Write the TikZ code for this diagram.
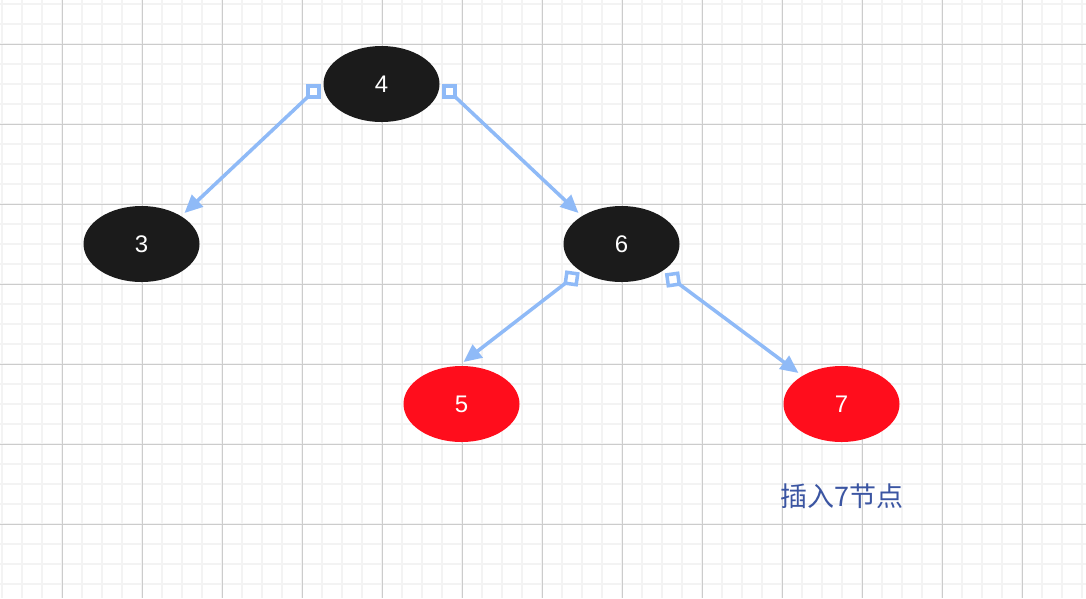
\documentclass[tikz,border=0pt]{standalone}
\usepackage{fontspec}
\setmainfont{Liberation Sans}
\newfontfamily\cjk{Noto Sans CJK SC}
\usetikzlibrary{arrows.meta,calc,shapes.geometric}
\definecolor{nodeblack}{RGB}{27,27,27}
\definecolor{nodered}{RGB}{255,13,28}
\definecolor{edgeblue}{RGB}{143,186,247}
\definecolor{gridminor}{RGB}{243,243,243}
\definecolor{gridmajor}{RGB}{204,204,204}
\definecolor{notecol}{RGB}{59,85,162}
\tikzset{
  rbnode/.style={ellipse, minimum width=116pt, minimum height=76pt, inner sep=0pt,
    text=white, font=\fontsize{24}{24}\selectfont},
  blacknode/.style={rbnode, fill=nodeblack},
  rednode/.style={rbnode, fill=nodered},
  sqstart/.style={draw=edgeblue, line width=3.5pt, fill=white, minimum size=11pt, inner sep=0pt, rectangle},
  edge/.style={draw=edgeblue, line width=3.5pt, -{Triangle[length=18pt, width=16pt]}},
  note/.style={text=notecol, font=\cjk\fontsize{27}{27}\selectfont}
}
\begin{document}
\begin{tikzpicture}[x=1pt,y=-1pt]
\useasboundingbox (0,0) rectangle (1086,598);
\fill[white] (0,0) rectangle (1086,598);
% minor grid
\foreach \gx in {2,22,...,1082} \draw[gridminor, line width=2pt] (\gx,0) -- (\gx,598);
\foreach \gy in {4,24,...,584} \draw[gridminor, line width=2pt] (0,\gy) -- (1086,\gy);
% major grid
\foreach \gx in {62,142,...,1022} \draw[gridmajor, line width=1pt] (\gx,0) -- (\gx,598);
\foreach \gy in {44,124,...,524} \draw[gridmajor, line width=1pt] (0,\gy) -- (1086,\gy);

% nodes
\node[blacknode] (n4) at (381.5,84) {4};
\node[blacknode] (n3) at (141.5,244) {3};
\node[blacknode] (n6) at (621.5,244) {6};
\node[rednode] (n5) at (461.5,404) {5};
\node[rednode] (n7) at (841.5,404) {7};

% edges
\draw[edge] (313.5,91.5) -- ($(n3.center)+(43,-31)$);
\draw[edge] (449.5,91.5) -- ($(n6.center)+(-43,-31)$);
\draw[edge] (571.5,278.5) -- ($(n5.center)+(2,-42)$);
\draw[edge] (673,279.5) -- ($(n7.center)+(-43,-31)$);

% start squares
\node[sqstart] (s1) at (313.5,91.5) {};
\node[sqstart] (s2) at (449.5,91.5) {};
\node[sqstart, rotate=-8] (s3) at (571.5,278.5) {};
\node[sqstart, rotate=8] (s4) at (673,279.5) {};

\node[note] (note) at (842,496) {插入7节点};
\end{tikzpicture}
\end{document}
